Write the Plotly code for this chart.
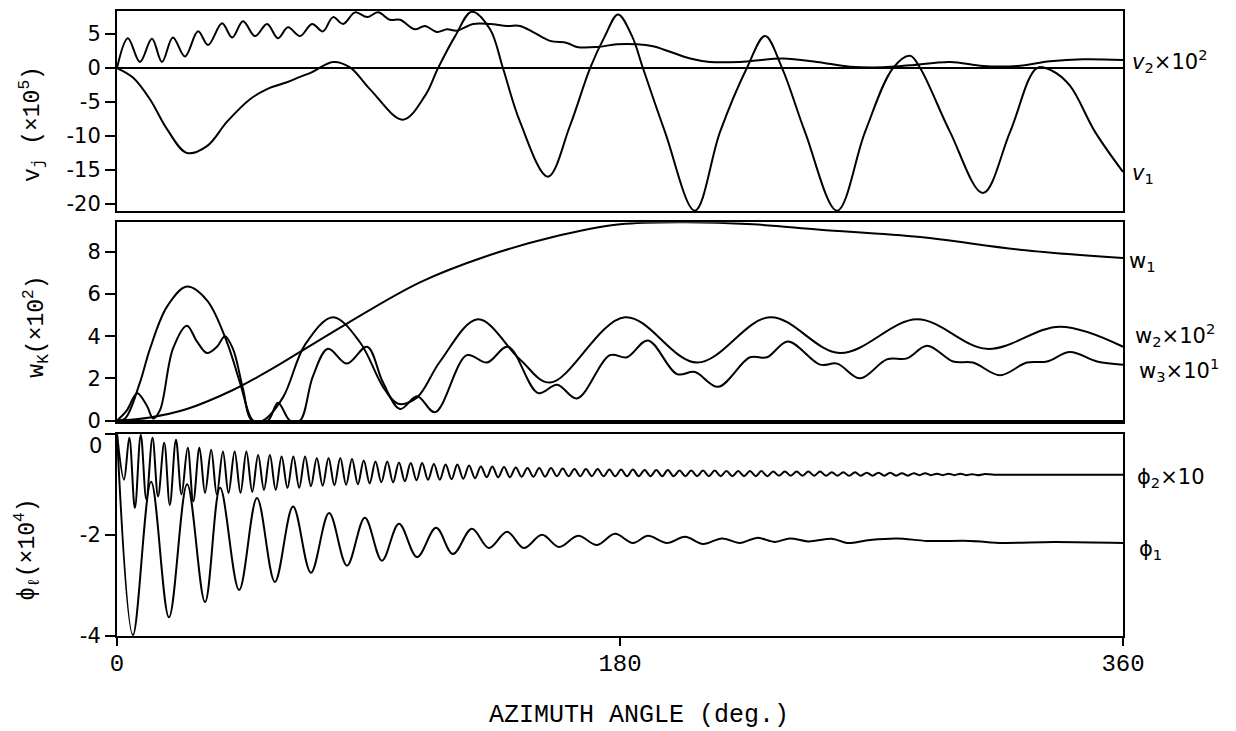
import plotly.graph_objects as go

# ---------------- data (x in degrees) ----------------
V1_DEG = [0, 5.7, 11.8, 17.9, 25.0, 32.2, 39.4, 47.6, 53.7, 60.8,
          65.5, 69.8, 77.3, 83.4, 90.5, 102.3, 110.2, 114.9, 121.0, 127.0,
          133.5, 138.1, 144.2, 154.2, 162.1, 169.3, 174.6, 179.3, 184.3, 188.2,
          196.1, 206.8, 215.8, 225.4, 231.9, 238.0, 246.2, 257.7, 267.7, 277.7,
          283.8, 287.4, 298.1, 309.9, 319.6, 329.2, 334.6, 341.0, 350.0, 360.0]
V1 = [0, -1.4, -4.6, -9.0, -12.5, -11.5, -7.9, -4.6, -3.1, -2.1,
      -1.3, -0.6, 0.9, 0.1, -3.1, -7.6, -4.1, 0, 4.7, 8.3,
      5.7, 0, -7.9, -16.0, -8.5, 0, 4.7, 7.9, 4.7, 0,
      -9.4, -21.0, -9.4, 0, 4.7, 0, -9.4, -21.0, -9.4, 0,
      1.8, 0, -9.4, -18.4, -9.4, 0, -0.4, -2.6, -9.4, -15.3]

V2_DEG = [0, 3.9, 8.2, 12.5, 16.1, 20.0, 24.3, 29.0, 32.6, 37.6,
          41.2, 45.1, 49.4, 53.7, 57.6, 61.2, 65.5, 69.8, 73.7, 77.3,
          80.9, 85.2, 89.5, 93.4, 97.7, 101.3, 106.6, 110.2, 114.5, 118.1,
          121.7, 127.4, 133.5, 139.6, 144.2, 148.9, 155.0, 161.0, 164.6, 171.8,
          178.9, 186.1, 191.8, 197.9, 205.1, 212.2, 222.9, 226.5, 238.3, 250.5,
          262.3, 274.1, 283.8, 298.1, 309.9, 322.1, 333.9, 345.7, 360.0]
V2 = [0, 4.4, 0.9, 4.3, 0.9, 4.5, 1.7, 5.4, 3.4, 6.6,
      4.5, 6.9, 4.7, 6.5, 4.4, 6.0, 4.7, 6.5, 5.4, 7.5,
      6.5, 8.2, 7.5, 8.2, 7.1, 7.1, 5.7, 6.2, 5.3, 5.7,
      5.5, 6.5, 6.5, 6.2, 6.2, 5.3, 4.0, 3.7, 3.1, 3.1,
      3.5, 3.5, 3.2, 2.4, 1.4, 0.9, 0.9, 1.0, 1.4, 0.9,
      0.2, 0.1, 0.4, 0.9, 0.3, 0.3, 1.0, 1.3, 1.2]

W1_DEG = [0, 11.8, 25.0, 41.5, 54.8, 67.3, 82.3, 108.4, 132.4, 156.0,
          180.0, 204.0, 227.6, 251.6, 287.4, 323.1, 360.0]
W1 = [0, 0.15, 0.55, 1.45, 2.4, 3.4, 4.6, 6.55, 7.8, 8.7,
      9.3, 9.4, 9.3, 9.05, 8.7, 8.1, 7.7]

W2_DEG = [0, 2.9, 8.2, 11.8, 17.9, 25.0, 32.2, 39.4, 44.0, 48.7,
          52.2, 59.4, 67.3, 77.3, 87.0, 95.2, 100.6, 107.4, 115.6, 129.2,
          144.2, 155.0, 181.8, 207.6, 233.7, 258.7, 286.3, 311.3, 337.5, 360.0]
W2 = [0, 0.1, 1.8, 3.4, 5.4, 6.35, 5.7, 3.7, 1.8, 0,
      0, 1.1, 3.6, 4.9, 3.7, 1.6, 0.8, 1.1, 2.8, 4.8,
      2.9, 1.8, 4.9, 2.75, 4.9, 3.2, 4.8, 3.4, 4.45, 3.5]

W3_DEG = [0, 3.6, 7.2, 10.7, 12.9, 15.4, 20.0, 25.0, 28.6, 32.2,
          35.8, 38.6, 41.5, 45.1, 48.3, 54.0, 57.6, 61.9, 65.5, 70.1,
          75.5, 82.3, 89.5, 95.2, 101.3, 107.4, 113.8, 125.2, 132.4, 139.9,
          150.7, 157.5, 164.6, 176.4, 182.5, 190.0, 200.4, 206.8, 215.1, 226.5,
          232.6, 240.1, 251.6, 257.7, 265.9, 275.5, 282.7, 289.9, 299.2, 306.3,
          316.0, 325.6, 332.8, 341.0, 350.7, 360.0]
W3 = [0, 0.5, 1.3, 0.7, 0.1, 0.5, 3.4, 4.5, 3.75, 3.2,
      3.5, 4.0, 3.4, 1.5, 0, 0, 0.85, 0, 0, 2.1,
      3.4, 2.7, 3.5, 1.8, 0.55, 1.15, 0.4, 3.1, 2.75, 3.5,
      1.3, 1.7, 1.05, 3.1, 3.0, 3.8, 2.2, 2.3, 1.6, 3.0,
      3.0, 3.75, 2.65, 2.7, 2.0, 2.9, 2.95, 3.55, 2.8, 2.75,
      2.15, 2.75, 2.8, 3.25, 2.8, 2.65]

PHI1_DEG = [0, 5.7, 12.2, 18.6, 25.1, 31.5, 36.9, 43.7, 50.1, 56.5,
            63.0, 69.4, 75.9, 82.3, 88.7, 94.8, 100.9, 107.4, 114.2, 120.2,
            127.0, 133.1, 139.6, 145.6, 152.1, 158.2, 165.0, 171.8, 178.2, 184.6,
            190.0, 196.8, 203.3, 209.7, 216.5, 222.9, 229.0, 235.5, 240.8, 247.3,
            256.2, 261.2, 269.5, 279.1, 289.9, 305.3, 317.1, 335.0, 360.0]
PHI1 = [0, -3.98, -0.95, -3.63, -1.0, -3.33, -1.07, -3.09, -1.27, -2.93,
        -1.44, -2.75, -1.57, -2.61, -1.66, -2.51, -1.78, -2.44, -1.86, -2.38,
        -1.88, -2.26, -1.94, -2.26, -2.0, -2.24, -2.02, -2.2, -1.98, -2.16,
        -2.02, -2.16, -2.04, -2.18, -2.07, -2.16, -2.06, -2.14, -2.07, -2.13,
        -2.08, -2.16, -2.1, -2.07, -2.12, -2.12, -2.16, -2.14, -2.16]

# phi2 x10 : read crests and troughs of the fast ripple
PHI2_PEAK_DEG = [4.4, 8.5, 12.7, 16.9, 21.1, 25.3, 29.5, 33.7, 37.9, 42.1,
                 46.3, 50.5, 54.7, 58.9, 63.1, 67.3, 71.5, 75.7, 79.9, 84.1,
                 88.3, 92.5, 96.7, 100.9, 105.1, 109.2, 113.4, 117.6, 121.8, 126.0,
                 130.2, 134.3, 138.5, 142.7, 146.9, 151.1, 155.3, 159.5, 163.7, 167.8,
                 172.0, 176.2, 180.4, 184.6, 188.8, 193.0, 197.1, 201.3, 205.5, 209.7,
                 213.9, 218.1, 222.3, 226.5, 230.6, 234.8, 239.0, 243.2, 247.4, 251.6,
                 255.8, 259.9, 264.1, 268.3, 272.5, 276.7, 280.9, 285.1, 289.2, 293.4,
                 297.6, 301.8, 306.0, 310.2]
PHI2_PEAK = [-0.08, -0.02, -0.08, -0.18, -0.12, -0.28, -0.28, -0.32, -0.35, -0.35,
             -0.35, -0.42, -0.42, -0.45, -0.45, -0.45, -0.48, -0.48, -0.48, -0.50,
             -0.53, -0.55, -0.55, -0.57, -0.58, -0.58, -0.60, -0.61, -0.61, -0.63,
             -0.65, -0.65, -0.66, -0.67, -0.68, -0.68, -0.68, -0.69, -0.70, -0.70,
             -0.70, -0.71, -0.71, -0.71, -0.72, -0.72, -0.72, -0.73, -0.73, -0.73,
             -0.73, -0.74, -0.74, -0.74, -0.74, -0.75, -0.75, -0.75, -0.75, -0.75,
             -0.76, -0.76, -0.76, -0.77, -0.77, -0.77, -0.78, -0.78, -0.78, -0.79,
             -0.79, -0.79, -0.80, -0.80]
PHI2_TROUGH_DEG = [2.5, 6.4, 10.5, 14.7, 18.9, 23.1, 27.3, 31.5, 35.7, 39.9,
                   44.2, 48.4, 52.6, 56.8, 61.0, 65.2, 69.4, 73.6, 77.8, 82.0,
                   86.2, 90.4, 94.6, 98.8, 103.0, 107.2, 111.3, 115.5, 119.7, 123.9,
                   128.1, 132.3, 136.4, 140.6, 144.8, 149.0, 153.2, 157.4, 161.6, 165.8,
                   169.9, 174.1, 178.3, 182.5, 186.7, 190.9, 195.1, 199.2, 203.4, 207.6,
                   211.8, 216.0, 220.2, 224.4, 228.6, 232.7, 236.9, 241.1, 245.3, 249.5,
                   253.7, 257.9, 262.0, 266.2, 270.4, 274.6, 278.8, 283.0, 287.2, 291.3,
                   295.5, 299.7, 303.9, 308.1]
PHI2_TROUGH = [-0.91, -1.47, -1.30, -1.24, -1.41, -1.20, -1.34, -1.17, -1.20, -1.17,
               -1.17, -1.15, -1.11, -1.11, -1.07, -1.07, -1.04, -1.03, -1.02, -1.01,
               -1.00, -0.98, -0.96, -0.96, -0.94, -0.92, -0.91, -0.91, -0.90, -0.89,
               -0.88, -0.86, -0.86, -0.86, -0.85, -0.85, -0.85, -0.84, -0.84, -0.84,
               -0.84, -0.84, -0.84, -0.84, -0.84, -0.84, -0.84, -0.84, -0.84, -0.84,
               -0.84, -0.84, -0.84, -0.84, -0.84, -0.84, -0.83, -0.83, -0.83, -0.83,
               -0.83, -0.83, -0.83, -0.83, -0.83, -0.83, -0.83, -0.83, -0.82, -0.82,
               -0.82, -0.82, -0.82, -0.82]
PHI2_ENDS_DEG = [0.0, 314.0, 330.0, 345.0, 360.0]
PHI2_ENDS = [0.0, -0.81, -0.81, -0.81, -0.81]

X_TICKS = [0, 180, 360]
V_TICKS = [5, 0, -5, -10, -15, -20]
W_TICKS = [0, 2, 4, 6, 8]
P_TICKS = [0, -2, -4]

# ---------------- figure ----------------
phi2_pts = sorted(zip(PHI2_PEAK_DEG + PHI2_TROUGH_DEG + PHI2_ENDS_DEG,
                      PHI2_PEAK + PHI2_TROUGH + PHI2_ENDS))
PHI2_X = [p[0] for p in phi2_pts]
PHI2_Y = [p[1] for p in phi2_pts]

fig = go.Figure()
LINE = dict(color='black', width=2, shape='spline', smoothing=1.0)


def add(x, y, xa, ya):
    fig.add_trace(go.Scatter(x=x, y=y, mode='lines', line=LINE, xaxis=xa,
                             yaxis=ya, showlegend=False, hoverinfo='skip'))


add(V2_DEG, V2, 'x', 'y')
add(V1_DEG, V1, 'x', 'y')
add(W1_DEG, W1, 'x2', 'y2')
add(W2_DEG, W2, 'x2', 'y2')
add(W3_DEG, W3, 'x2', 'y2')
add(PHI2_X, PHI2_Y, 'x3', 'y3')
add(PHI1_DEG, PHI1, 'x3', 'y3')

XBASE = dict(range=[0, 360], domain=[0, 1], showgrid=False, zeroline=False,
             showline=True, mirror=True, linecolor='black', linewidth=2)
YTICKFONT = dict(family='DejaVu Sans', size=21, color='black')
YBASE = dict(showgrid=False, showline=True, mirror=True, linecolor='black',
             linewidth=2, ticks='outside', ticklen=10, tickwidth=2,
             tickcolor='black', tickfont=YTICKFONT)

fig.update_layout(
    width=1236, height=731,
    margin=dict(l=117, r=113, t=9, b=95),
    paper_bgcolor='white', plot_bgcolor='white',
    xaxis=dict(XBASE, anchor='y', showticklabels=False, ticks=''),
    xaxis2=dict(XBASE, anchor='y2', showticklabels=False, ticks=''),
    xaxis3=dict(XBASE, anchor='y3', tickvals=X_TICKS,
                ticktext=[str(v) for v in X_TICKS], ticks='outside',
                ticklen=8, tickwidth=2, tickcolor='black', ticklabelstandoff=-4,
                tickfont=dict(family='Liberation Mono', size=24, color='black')),
    yaxis=dict(YBASE, domain=[0.6795, 1.0], range=[-21.1, 8.4], anchor='x',
               tickvals=V_TICKS, ticktext=[str(v) for v in V_TICKS],
               zeroline=True, zerolinecolor='black', zerolinewidth=1.5),
    yaxis2=dict(YBASE, domain=[0.343, 0.662], range=[-0.05, 9.4], anchor='x2',
                tickvals=W_TICKS, ticktext=[str(v) for v in W_TICKS],
                zeroline=True, zerolinecolor='black', zerolinewidth=1.5),
    yaxis3=dict(YBASE, domain=[0.0, 0.3237], range=[-4, 0], anchor='x3',
                tickvals=P_TICKS, ticktext=['', '-2', '-4'],
                zeroline=False),
)

ANN_FONT = dict(family='DejaVu Sans', size=21, color='black')
MONO = dict(family='Liberation Mono', size=23, color='black')


def note(text, x, y, font, angle=0, xanchor='left', yref='paper'):
    fig.add_annotation(text=text, x=x, y=y, xref='paper', yref=yref,
                       showarrow=False, textangle=angle, xanchor=xanchor,
                       yanchor='middle', font=font)


# top tick label of the lowest panel, nudged down as in the original
note('0', -0.0125, -0.24, YTICKFONT, xanchor='right', yref='y3')

# right-hand curve labels
note('<i>v</i><sub>2</sub>×10<sup>2</sup>', 1.007, 0.92, ANN_FONT)
note('<i>v</i><sub>1</sub>', 1.007, 0.739, ANN_FONT)
note('w<sub>1</sub>', 1.004, 0.599, ANN_FONT)
note('w<sub>2</sub>×10<sup>2</sup>', 1.010, 0.482, ANN_FONT)
note('w<sub>3</sub>×10<sup>1</sup>', 1.014, 0.426, ANN_FONT)
note('ϕ<sub>2</sub>×10', 1.012, 0.253, ANN_FONT)
note('ϕ<sub>1</sub>', 1.014, 0.138, ANN_FONT)

# left axis titles
note('v<sub>j</sub> (×10<sup>5</sup>)', -0.0845, 0.819, MONO, angle=-90, xanchor='center')
note('w<sub>K</sub>(×10<sup>2</sup>)', -0.0805, 0.495, MONO, angle=-90, xanchor='center')
note('ϕ<sub>ℓ</sub>(×10<sup>4</sup>)', -0.0895, 0.138, MONO, angle=-90, xanchor='center')

# x-axis title
note('AZIMUTH ANGLE (deg.)', 0.519, -0.1266,
     dict(family='Liberation Mono', size=25, color='black'), xanchor='center')

fig.write_html('out.html')
